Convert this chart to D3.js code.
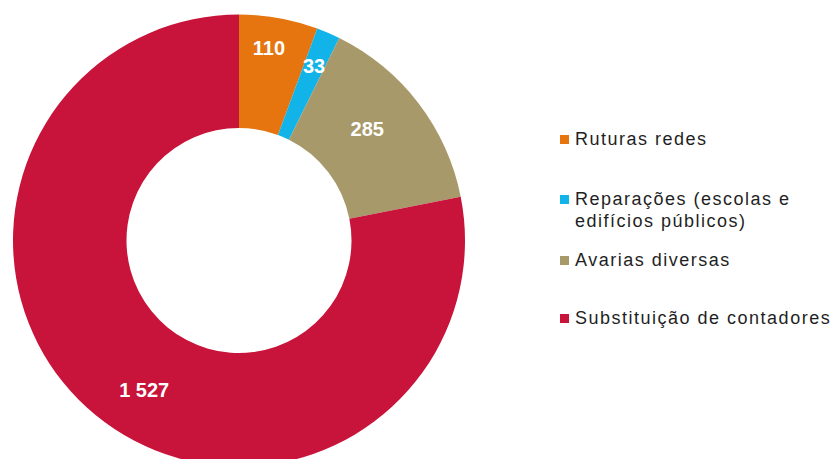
<!DOCTYPE html>
<meta charset="utf-8">
<style>
body { margin: 0; background: #fff; }
.label { font-family: "Liberation Sans", Arial, sans-serif; font-weight: bold; font-size: 20px; fill: #fff; }
.legend text { font-family: "Liberation Sans", Arial, sans-serif; font-size: 18px; fill: #1f1f1f; letter-spacing: 1.5px; }
</style>
<svg width="834" height="459"></svg>
<script src="https://cdn.jsdelivr.net/npm/d3@7"></script>
<script>

var categories = ["Ruturas redes", "Reparações (escolas e edifícios públicos)", "Avarias diversas", "Substituição de contadores"];
var legendLines = [["Ruturas redes"], ["Reparações (escolas e", "edifícios públicos)"], ["Avarias diversas"], ["Substituição de contadores"]];
var values = [110, 33, 285, 1527];
var valueLabels = ["110", "33", "285", "1 527"];
var colors = ["#e6740f", "#12b3e8", "#a8996a", "#c8133a"];

// label placement tweaks (radius from centre, extra turn in degrees)
var labelRadius = [195, 190, 170, 177];
var labelTurn = [-1.3, 0, -3.6, -7];
var legendBaseline = [145, 205, 266, 324];

var svg = d3.select("svg"),
    cx = 239, cy = 240.5,
    outerR = 226, innerR = 112.5;

var data = values.map(function(v, i) { return {name: categories[i], value: v, i: i}; });

var pie = d3.pie()
    .value(function(d) { return d.value; })
    .sort(null);

var arc = d3.arc()
    .innerRadius(innerR)
    .outerRadius(outerR);

var g = svg.append("g")
    .attr("transform", "translate(" + cx + "," + cy + ")");

var arcs = pie(data);

g.selectAll("path")
  .data(arcs)
  .enter().append("path")
    .attr("d", arc)
    .attr("fill", function(d) { return colors[d.data.i]; });

g.selectAll("text")
  .data(arcs)
  .enter().append("text")
    .attr("class", "label")
    .attr("text-anchor", "middle")
    .attr("dy", "0.36em")
    .attr("x", function(d) {
      var a = (d.startAngle + d.endAngle) / 2 + labelTurn[d.data.i] * Math.PI / 180;
      return labelRadius[d.data.i] * Math.sin(a);
    })
    .attr("y", function(d) {
      var a = (d.startAngle + d.endAngle) / 2 + labelTurn[d.data.i] * Math.PI / 180;
      return -labelRadius[d.data.i] * Math.cos(a);
    })
    .text(function(d) { return valueLabels[d.data.i]; });

var legend = svg.append("g").attr("class", "legend");

var item = legend.selectAll("g")
  .data(data)
  .enter().append("g");

item.append("rect")
    .attr("x", 560)
    .attr("y", function(d) { return legendBaseline[d.i] - 10; })
    .attr("width", 9)
    .attr("height", 9)
    .attr("fill", function(d) { return colors[d.i]; });

item.each(function(d) {
  var t = d3.select(this).append("text")
      .attr("x", 575)
      .attr("y", legendBaseline[d.i]);
  legendLines[d.i].forEach(function(line, k) {
    t.append("tspan")
        .attr("x", 575)
        .attr("dy", k === 0 ? 0 : 22)
        .text(line);
  });
});
</script>
